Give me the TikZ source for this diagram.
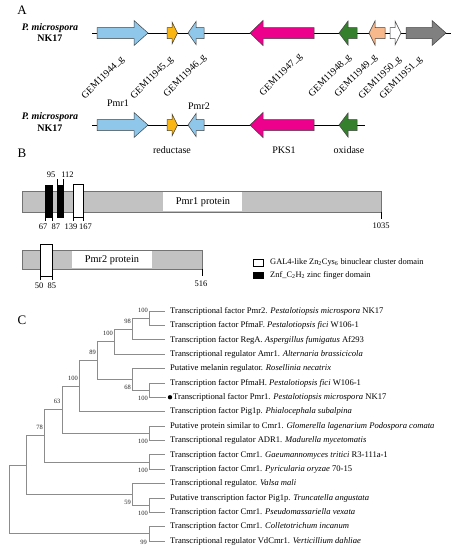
\documentclass[tikz,border=0pt]{standalone}
\usepackage{fontspec}
\setmainfont{Liberation Serif}
\definecolor{gblue}{RGB}{142,199,234}
\definecolor{gyellow}{RGB}{250,183,20}
\definecolor{gpink}{RGB}{236,0,140}
\definecolor{ggreen}{RGB}{52,128,44}
\definecolor{gpeach}{RGB}{247,184,140}
\definecolor{ggray}{RGB}{128,128,128}
\definecolor{barfill}{RGB}{194,194,194}
\definecolor{treecol}{RGB}{140,140,140}
\newcommand{\genearr}[6]{%
  \draw[#6] (#2,#1-5.5) -- (#3,#1-5.5) -- (#3,#1-#5) -- (#4,#1) -- (#3,#1+#5) -- (#3,#1+5.5) -- (#2,#1+5.5) -- cycle;}
\begin{document}
\begin{tikzpicture}[x=1pt,y=-1pt,
  panel/.style={font=\fontsize{13}{15}\selectfont, inner sep=0},
  strain/.style={font=\fontsize{10}{12}\selectfont\bfseries, inner sep=0},
  lbl/.style={font=\fontsize{10}{12}\selectfont, inner sep=0},
  gem/.style={font=\fontsize{9.8}{11}\selectfont, rotate=45, anchor=east, inner sep=0},
  num/.style={font=\fontsize{8.5}{10}\selectfont, inner sep=0},
  leg/.style={font=\fontsize{8.4}{10}\selectfont, inner sep=0, anchor=mid west},
  leaf/.style={font=\fontsize{8.6}{10}\selectfont, inner sep=0, anchor=mid west},
  boot/.style={font=\fontsize{6.5}{7}\selectfont, inner sep=0, anchor=mid east, text=black!85},
  backbone/.style={draw=black, line width=0.9pt},
  genebox/.style={draw=black!75, line width=0.5pt},
  tick/.style={draw=black, line width=0.4pt},
  tree/.style={draw=treecol, line width=0.65pt},
  bar/.style={fill=barfill, draw=black!55, line width=0.4pt},
  dombox/.style={fill=white, draw=black, line width=0.5pt},
  znbox/.style={fill=black, draw=black, line width=0.5pt}]
\useasboundingbox (0,0) rectangle (458,550);
\fill[white] (0,0) rectangle (458,550);

% ---------------- Panel A ----------------
\node[panel] (pA) at (22,10) {A};
\node[strain] (s1a) at (50,28) {\itshape P. microspora};
\node[strain] (s1b) at (50,38.5) {NK17};
\coordinate (r1s) at (92,33);
\coordinate (r1e) at (451,33);
\draw[backbone] (r1s) -- (r1e);
\genearr{33}{97}{134}{148}{12.5}{genebox, fill=gblue}
\genearr{33}{167}{172}{177.5}{11}{genebox, fill=gyellow}
\genearr{33}{204}{196}{188}{11.5}{genebox, fill=gblue}
\genearr{33}{314}{263}{250}{12.5}{genebox, fill=gpink}
\genearr{33}{357}{348}{339}{12}{genebox, fill=ggreen}
\genearr{33}{385}{375}{369}{12}{genebox, fill=gpeach}
\genearr{33}{390}{395}{401}{12}{genebox, fill=white}
\genearr{33}{406}{432}{446}{12.5}{genebox, fill=ggray}

\node[gem] (g44) at (123,58) {GEM11944\_g};
\node[gem] (g45) at (172,58) {GEM11945\_g};
\node[gem] (g46) at (205,56) {GEM11946\_g};
\node[gem] (g47) at (301,55) {GEM11947\_g};
\node[gem] (g48) at (350,56) {GEM11948\_g};
\node[gem] (g49) at (376,56) {GEM11949\_g};
\node[gem] (g50) at (400,58) {GEM11950\_g};
\node[gem] (g51) at (421,58) {GEM11951\_g};

\node[lbl] (pmr1) at (118,103) {Pmr1};
\node[lbl] (pmr2) at (199,106) {Pmr2};
\node[strain] (s2a) at (50,117.5) {\itshape P. microspora};
\node[strain] (s2b) at (50,128) {NK17};
\coordinate (r2s) at (92,125);
\coordinate (r2e) at (365,125);
\draw[backbone] (r2s) -- (r2e);
\genearr{125}{97}{134}{148}{12.5}{genebox, fill=gblue}
\genearr{125}{167}{172}{177.5}{11}{genebox, fill=gyellow}
\genearr{125}{204}{196}{188}{11.5}{genebox, fill=gblue}
\genearr{125}{314}{263}{250}{12.5}{genebox, fill=gpink}
\genearr{125}{357}{348}{339}{12}{genebox, fill=ggreen}
\node[lbl] (red) at (172,150) {reductase};
\node[lbl] (pks) at (284,150) {PKS1};
\node[lbl] (oxi) at (349,150) {oxidase};

% ---------------- Panel B ----------------
\node[panel] (pB) at (22,153) {B};
\draw[bar] (22,191) rectangle (381,212);
\fill[white] (163,191.6) rectangle (242,211.4);
\node[lbl, font=\fontsize{10.3}{12}\selectfont] (p1) at (203,202) {Pmr1 protein};
\draw[znbox] (45,185) rectangle (52,217);
\draw[znbox] (57,185) rectangle (63,217);
\draw[dombox] (73,184) rectangle (83,217);
\draw[tick] (57,185) -- (57,179);
\draw[tick] (63,185) -- (63,179);
\node[num] (n95) at (51,175) {95};
\node[num] (n112) at (67.5,175) {112};
\draw[tick] (45,217) -- (45,221);
\draw[tick] (52,217) -- (52,221);
\draw[tick] (73,217) -- (73,221);
\draw[tick] (83,217) -- (83,221);
\draw[tick] (381,212) -- (381,219);
\node[num] (n67) at (43,227) {67};
\node[num] (n87) at (56,227) {87};
\node[num] (n139) at (71,227) {139};
\node[num] (n167) at (85.5,227) {167};
\node[num] (n1035) at (381,226) {1035};

\draw[bar] (22,250) rectangle (202,269);
\fill[white] (72,250.6) rectangle (152,268.4);
\node[lbl, font=\fontsize{10.3}{12}\selectfont] (p2) at (112,260) {Pmr2 protein};
\draw[dombox] (40,244) rectangle (52,276);
\draw[tick] (40,276) -- (40,280);
\draw[tick] (52,276) -- (52,280);
\draw[tick] (202,269) -- (202,276);
\node[num] (n50) at (39,286) {50};
\node[num] (n85) at (52,286) {85};
\node[num] (n516) at (201,284) {516};

\draw[dombox] (253,259) rectangle (263,266);
\node[leg] (leg1) at (270,262.5) {GAL4-like Zn\textsubscript{2}Cys\textsubscript{6} binuclear cluster domain};
\draw[znbox] (253,272) rectangle (263,278);
\node[leg] (leg2) at (270,275) {Znf\_C\textsubscript{2}H\textsubscript{2} zinc finger domain};

% ---------------- Panel C ----------------
\node[panel] (pC) at (22,320) {C};
% leaves
\coordinate (L1) at (165,311);
\coordinate (L2) at (165,325.375);
\coordinate (L3) at (165,339.75);
\coordinate (L4) at (165,354.125);
\coordinate (L5) at (165,368.5);
\coordinate (L6) at (165,382.875);
\coordinate (L7) at (166,397.25);
\coordinate (L8) at (165,411.625);
\coordinate (L9) at (165,426);
\coordinate (L10) at (165,440.375);
\coordinate (L11) at (165,454.75);
\coordinate (L12) at (165,469.125);
\coordinate (L13) at (165,483.5);
\coordinate (L14) at (165,497.875);
\coordinate (L15) at (165,512.25);
\coordinate (L16) at (165,526.625);
\coordinate (L17) at (165,541);
% internal nodes
\coordinate (n12) at (149,318.19);
\coordinate (n123) at (132,328.97);
\coordinate (n1234) at (114,341.55);
\coordinate (n67) at (149,390.06);
\coordinate (n567) at (132,379.28);
\coordinate (n89) at (97,360.42);
\coordinate (n100b) at (79,386.02);
\coordinate (n910) at (149,433.19);
\coordinate (n63) at (62,409.6);
\coordinate (n1112) at (149,461.94);
\coordinate (n78) at (44,435.77);
\coordinate (n1415) at (149,505.06);
\coordinate (n59) at (132,494.28);
\coordinate (n26) at (26,465.03);
\coordinate (n1617) at (149,533.81);
\coordinate (root) at (9,499.42);

\draw[tree] (n12) |- (L1); \draw[tree] (n12) |- (L2);
\draw[tree] (n123) |- (n12); \draw[tree] (n123) |- (L3);
\draw[tree] (n1234) |- (n123); \draw[tree] (n1234) |- (L4);
\draw[tree] (n67) |- (L6); \draw[tree] (n67) |- (L7);
\draw[tree] (n567) |- (L5); \draw[tree] (n567) |- (n67);
\draw[tree] (n89) |- (n1234); \draw[tree] (n89) |- (n567);
\draw[tree] (n100b) |- (n89); \draw[tree] (n100b) |- (L8);
\draw[tree] (n910) |- (L9); \draw[tree] (n910) |- (L10);
\draw[tree] (n63) |- (n100b); \draw[tree] (n63) |- (n910);
\draw[tree] (n1112) |- (L11); \draw[tree] (n1112) |- (L12);
\draw[tree] (n78) |- (n63); \draw[tree] (n78) |- (n1112);
\draw[tree] (n1415) |- (L14); \draw[tree] (n1415) |- (L15);
\draw[tree] (n59) |- (L13); \draw[tree] (n59) |- (n1415);
\draw[tree] (n26) |- (n78); \draw[tree] (n26) |- (n59);
\draw[tree] (n1617) |- (L16); \draw[tree] (n1617) |- (L17);
\draw[tree] (root) |- (n26); \draw[tree] (root) |- (n1617);

% bootstrap values
\node[boot] (b12) at (148,310) {100};
\node[boot] (b123) at (131,321) {98};
\node[boot] (b1234) at (113,333) {100};
\node[boot] (b567) at (131,387) {68};
\node[boot] (b67) at (148,398) {100};
\node[boot] (b89) at (96,352) {89};
\node[boot] (b100b) at (78,378) {100};
\node[boot] (b63) at (60.5,401) {63};
\node[boot] (b910) at (148,441) {100};
\node[boot] (b78) at (43,427) {78};
\node[boot] (b1112) at (148,470) {100};
\node[boot] (b59) at (131,502) {59};
\node[boot] (b1415) at (148,513) {100};
\node[boot] (b1617) at (147,542) {99};

% leaf labels
\node[leaf] (T1) at (170,311) {Transcriptional factor Pmr2. \textit{Pestalotiopsis microspora} NK17};
\node[leaf] (T2) at (170,325.375) {Transcription factor PfmaF. \textit{Pestalotiopsis fici} W106-1};
\node[leaf] (T3) at (170,339.75) {Transcription factor RegA. \textit{Aspergillus fumigatus} Af293};
\node[leaf] (T4) at (170,354.125) {Transcriptional regulator Amr1. \textit{Alternaria brassicicola}};
\node[leaf] (T5) at (170,368.5) {Putative melanin regulator. \textit{Rosellinia necatrix}};
\node[leaf] (T6) at (170,382.875) {Transcription factor PfmaH. \textit{Pestalotiopsis fici} W106-1};
\node[circle, fill=black, inner sep=0, minimum size=4.4pt] (B7) at (170,397.25) {};
\node[leaf] (T7) at (173,397.25) {Transcriptional factor Pmr1. \textit{Pestalotiopsis microspora} NK17};
\node[leaf] (T8) at (170,411.625) {Transcription factor Pig1p. \textit{Phialocephala subalpina}};
\node[leaf] (T9) at (170,426) {Putative protein similar to Cmr1. \textit{Glomerella lagenarium Podospora comata}};
\node[leaf] (T10) at (170,440.375) {Transcriptional regulator ADR1. \textit{Madurella mycetomatis}};
\node[leaf] (T11) at (170,454.75) {Transcription factor Cmr1. \textit{Gaeumannomyces tritici} R3-111a-1};
\node[leaf] (T12) at (170,469.125) {Transcription factor Cmr1. \textit{Pyricularia oryzae} 70-15};
\node[leaf] (T13) at (170,483.5) {Transcriptional regulator. \textit{Valsa mali}};
\node[leaf] (T14) at (170,497.875) {Putative transcription factor Pig1p. \textit{Truncatella angustata}};
\node[leaf] (T15) at (170,512.25) {Transcription factor Cmr1. \textit{Pseudomassariella vexata}};
\node[leaf] (T16) at (170,526.625) {Transcription factor Cmr1. \textit{Colletotrichum incanum}};
\node[leaf] (T17) at (170,541) {Transcriptional regulator VdCmr1. \textit{Verticillium dahliae}};
\end{tikzpicture}
\end{document}
